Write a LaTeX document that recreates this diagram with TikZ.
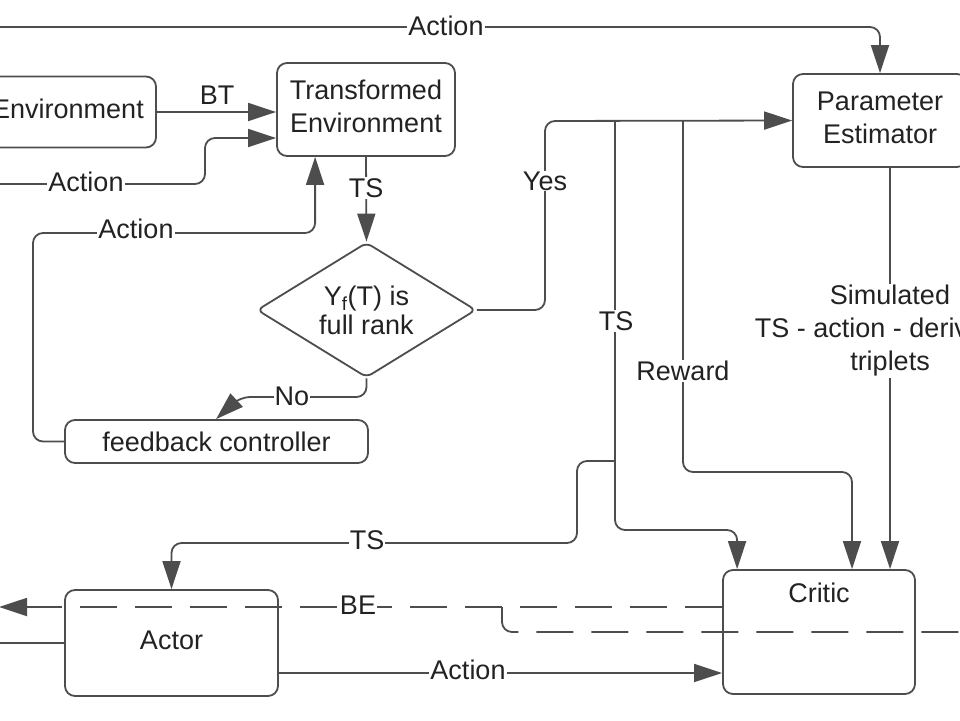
\documentclass[tikz,border=0pt]{standalone}
\usepackage{fontspec}
\setmainfont{Liberation Sans}
\usetikzlibrary{arrows.meta,shapes.geometric,calc}
\definecolor{lc}{HTML}{4D4D4D}
\definecolor{tc}{HTML}{222222}
\begin{document}
\begin{tikzpicture}[x=1pt,y=-1pt,
  every node/.style={font=\fontsize{27pt}{33pt}\selectfont, text=tc},
  box/.style={draw=lc, line width=1.8pt, rounded corners=10pt, align=center, inner sep=0pt},
  btext/.style={label={[align=center, yshift=3pt, inner sep=0pt]center:#1}},
  dia/.style={draw=lc, line width=1.8pt, diamond, aspect=1.62, minimum width=219pt, minimum height=135pt, inner sep=0pt, rounded corners=6pt, align=center},
  ln/.style={draw=lc, line width=1.8pt, rounded corners=10pt},
  arr/.style={ln, -{Triangle[length=28pt,width=18pt]}},
  dsh/.style={dash pattern=on 37pt off 18pt},
  lbl/.style={fill=white, inner sep=1pt, align=center}]
\useasboundingbox (0,0) rectangle (960,720);
% nodes
\node[box, minimum width=176pt, minimum height=71pt, btext={Environment}] (env) at (68,112) {};
\node[box, minimum width=178pt, minimum height=93pt, btext={Transformed\\Environment}] (te) at (366,109.5) {};
\node[box, minimum width=174pt, minimum height=93pt, btext={Parameter\\Estimator}] (pe) at (880,120.5) {};
\node[dia] (d) at (366.5,310) {Y\textsubscript{f}(T) is\\[-4pt]full rank};
\node[box, minimum width=303pt, minimum height=43pt] (fb) at (216.5,441.5) {feedback controller};
\node[box, minimum width=213pt, minimum height=106pt, btext={Actor}] (actor) at (171.5,643) {};
\node[box, minimum width=192pt, minimum height=124pt, label={[yshift=39pt, inner sep=0pt]center:Critic}] (critic) at (819,632) {};
% coordinates
\coordinate (topL) at (-12,27);
\coordinate (a2L) at (-12,184);
\coordinate (a2M) at (205,184);
\coordinate (y138) at (0,138);
\coordinate (fbL) at (33,233);
\coordinate (yesT) at (545,121);
\coordinate (j1) at (615,121);
\coordinate (j2) at (615,461);
\coordinate (j3) at (683,121);
\coordinate (tsA) at (615,530);
\coordinate (tsB) at (577,543);
\coordinate (rw) at (852,472);
\coordinate (noC) at (240,397);
\coordinate (beL) at (-1,607);
\coordinate (beJ) at (502,607);
\coordinate (be2R) at (980,632);
\coordinate (actL) at (-12,643);
% connectors
\draw[arr] (topL) -| (pe.north);
\draw[arr] (env.east) -- (env.east -| te.west);
\draw[arr] (a2L) -- (a2M) |- (te.west |- y138);
\draw[arr] (fb.west) -| (fbL) -| ([xshift=39pt]te.south west);
\draw[arr] (te.south) -- (d.north);
\draw[arr] (d.east) -| (yesT) -- (pe.west);
\draw[arr] (d.south) |- (noC) -- ([xshift=152pt]fb.north west);
\draw[arr] (j1) -- (tsA) -| ([xshift=15pt]critic.north west);
\draw[arr] (j2) -| (tsB) -| (actor.north);
\draw[arr] (j3) |- (rw) -- (rw |- critic.north);
\draw[arr] ([xshift=10pt]pe.south) -- ([xshift=10pt]pe.south |- critic.north);
\draw[arr] ([yshift=-30pt]actor.east) -- ([yshift=-30pt]actor.east -| critic.west);
\draw[ln] (actor.west) -- (actL);
\draw[arr, dsh] ([yshift=25pt]critic.west) -- (beL);
\draw[ln, dsh] (beJ) |- (be2R);
% labels
\node[lbl] at (446,26) {Action};
\node at (217,95) {BT};
\node[lbl] at (86,182) {Action};
\node[lbl] at (136,229) {Action};
\node[lbl] at (366,188) {TS};
\node[lbl] at (545,181) {Yes};
\node[lbl] at (292,396) {No};
\node[lbl] at (616,321) {TS};
\node[lbl] at (683,371) {Reward};
\node[lbl] at (890,331) {Simulated\\TS - action - derivative\\triplets};
\node[lbl] at (367,540) {TS};
\node[lbl] at (358,605) {BE};
\node[lbl] at (468,670) {Action};
\end{tikzpicture}
\end{document}
